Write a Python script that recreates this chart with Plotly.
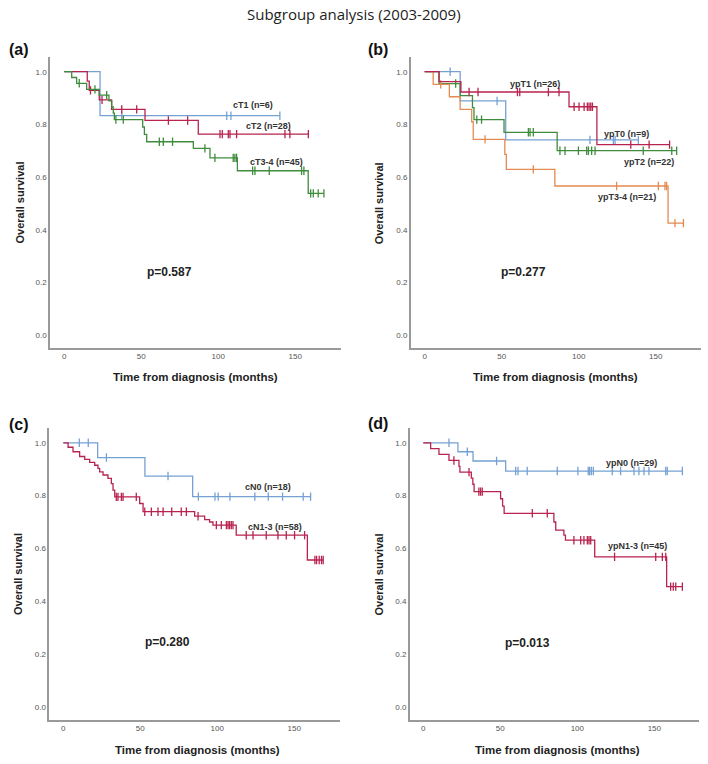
import plotly.graph_objects as go

W, H = 708, 764

# ---------------- data ----------------
# Panel (a)
cT1_t = [23.2]
cT1_s = [0.833]
cT1_c = [37.3, 105.5, 108.2, 140.0]

cT2_t = [14.9, 16.2, 22.7, 30.7, 52.4, 87.0]
cT2_s = [0.964, 0.929, 0.893, 0.857, 0.815, 0.763]
cT2_c = [17.0, 24.5, 37.3, 47.0, 67.6, 80.1, 101.1, 102.6, 106.5, 107.6, 111.9, 143.3, 146.5, 158.5]

cT34_t = [4.8, 8.0, 14.5, 22.7, 29.0, 30.8, 31.8, 32.5, 50.9, 52.0, 53.5, 83.8, 94.6, 112.4, 158.4]
cT34_s = [0.978, 0.956, 0.933, 0.911, 0.889, 0.866, 0.843, 0.818, 0.790, 0.762, 0.734, 0.709, 0.673, 0.624, 0.538]
cT34_c = [9.7, 19.9, 27.5, 33.5, 38.3, 61.7, 64.3, 70.3, 91.3, 97.8, 109.7, 110.8, 111.9, 122.3, 123.8,
          133.1, 154.1, 155.6, 160.0, 161.7, 164.9, 168.6]

# Panel (b)
ypT0_t = [23.0, 52.6]
ypT0_s = [0.889, 0.741]
ypT0_c = [16.5, 47.0, 107.3, 122.5, 123.6, 138.7]

ypT1_t = [9.3, 23.5, 93.7, 111.8]
ypT1_s = [0.962, 0.923, 0.867, 0.723]
ypT1_c = [28.8, 34.6, 60.2, 61.7, 80.3, 87.2, 97.0, 100.2, 103.5, 105.6, 106.7, 107.8, 108.9,
          133.8, 145.7, 159.0]

ypT2_t = [9.3, 23.0, 31.0, 32.0, 51.5, 86.0]
ypT2_s = [0.955, 0.909, 0.864, 0.818, 0.770, 0.700]
ypT2_c = [20.1, 33.8, 36.9, 67.3, 68.4, 70.5, 87.8, 91.1, 99.8, 105.2, 106.3, 108.4, 110.6,
          141.9, 160.4, 163.6]

ypT34_t = [5.5, 16.0, 23.0, 30.5, 31.5, 52.0, 53.0, 84.5, 158.0]
ypT34_s = [0.952, 0.905, 0.857, 0.810, 0.743, 0.686, 0.629, 0.566, 0.425]
ypT34_c = [10.4, 39.2, 70.5, 124.6, 151.7, 156.0, 157.1, 162.5, 168.0]

# Panel (c)
cN0_t = [22.3, 53.0, 84.0]
cN0_s = [0.944, 0.874, 0.796]
cN0_c = [10.4, 16.2, 28.0, 68.0, 87.7, 98.5, 100.6, 108.2, 124.4, 133.1, 142.4, 155.8, 160.6]

cN13_t = [3.1, 6.3, 10.6, 13.9, 17.1, 20.4, 22.5, 23.6, 25.8, 29.0, 31.2, 32.3, 33.4, 49.6, 51.8,
          85.3, 91.8, 95.0, 97.2, 112.3, 158.5]
cN13_s = [0.983, 0.966, 0.948, 0.937, 0.926, 0.915, 0.903, 0.890, 0.878, 0.865, 0.845, 0.821, 0.795,
          0.770, 0.739, 0.722, 0.709, 0.700, 0.688, 0.650, 0.556]
cN13_c = [34.4, 35.5, 37.7, 38.8, 47.4, 52.9, 57.2, 61.5, 64.8, 70.4, 76.6, 79.9, 87.5, 99.4, 102.6,
          105.9, 107.0, 108.0, 109.1, 110.2, 118.8, 123.2, 131.8, 139.4, 144.8, 150.2, 156.7,
          163.4, 164.5, 166.2, 167.7, 168.8]

# Panel (d)
ypN0_t = [22.5, 32.3, 53.5]
ypN0_s = [0.966, 0.931, 0.893]
ypN0_c = [16.7, 28.6, 47.6, 60.0, 61.5, 67.5, 87.0, 100.4, 107.1, 108.0, 109.1, 110.4, 122.7,
          128.1, 136.8, 140.0, 143.3, 146.5, 157.4, 158.4, 168.2]

ypN13_t = [4.8, 10.2, 16.7, 23.2, 23.8, 31.2, 32.2, 33.0, 50.2, 51.5, 52.5, 84.8, 86.0, 91.3, 92.3,
           111.3, 158.0]
ypN13_s = [0.978, 0.956, 0.933, 0.911, 0.889, 0.866, 0.843, 0.815, 0.788, 0.760, 0.733, 0.700,
           0.669, 0.650, 0.631, 0.568, 0.455]
ypN13_c = [19.9, 29.7, 36.1, 37.2, 38.3, 70.8, 80.5, 97.8, 102.2, 104.3, 106.5, 107.6, 108.7,
           124.2, 150.9, 155.2, 157.4, 160.6, 162.3, 163.9, 168.2]

p_values = ["p=0.587", "p=0.277", "p=0.280", "p=0.013"]
panel_tags = ["(a)", "(b)", "(c)", "(d)"]
x_ticks = [0, 50, 100, 150]
y_ticks = [0.0, 0.2, 0.4, 0.6, 0.8, 1.0]

BLUE = "#76a1d3"
RED = "#b8234f"
GREEN = "#3f8c3c"
ORANGE = "#e48a52"

panels = [
    [("cT1 (n=6)", cT1_t, cT1_s, cT1_c, BLUE, 122.5, 0.873),
     ("cT2 (n=28)", cT2_t, cT2_s, cT2_c, RED, 132.7, 0.794),
     ("cT3-4 (n=45)", cT34_t, cT34_s, cT34_c, GREEN, 138.1, 0.658)],
    [("ypT0 (n=9)", ypT0_t, ypT0_s, ypT0_c, BLUE, 130.7, 0.763),
     ("ypT2 (n=22)", ypT2_t, ypT2_s, ypT2_c, GREEN, 145.7, 0.658),
     ("ypT3-4 (n=21)", ypT34_t, ypT34_s, ypT34_c, ORANGE, 131.6, 0.525),
     ("ypT1 (n=26)", ypT1_t, ypT1_s, ypT1_c, RED, 71.9, 0.955)],
    [("cN0 (n=18)", cN0_t, cN0_s, cN0_c, BLUE, 133.1, 0.831),
     ("cN1-3 (n=58)", cN13_t, cN13_s, cN13_c, RED, 137.7, 0.682)],
    [("ypN0 (n=29)", ypN0_t, ypN0_s, ypN0_c, BLUE, 135.5, 0.924),
     ("ypN1-3 (n=45)", ypN13_t, ypN13_s, ypN13_c, RED, 139.3, 0.609)],
]
p_pos = [(68.6, 0.24), (64.0, 0.24), (67.7, 0.246), (67.9, 0.24)]

# ---------------- layout geometry (pixels) ----------------
# (left, right, top, bottom) of each plot area
boxes = [(50.0, 340.7, 56.7, 347.7), (410.7, 700.7, 56.7, 347.7),
         (49.3, 340.0, 428.0, 720.0), (409.7, 699.0, 428.0, 720.0)]
x_ranges = [[-9.3, 179.5], [-9.1, 179.2], [-9.1, 179.7], [-8.8, 179.0]]
y_ranges = [[-0.048, 1.057], [-0.048, 1.057], [-0.050, 1.056], [-0.050, 1.056]]
xtitle_pos = [(195.0, 376.7), (555.7, 376.7), (197.5, 750.0), (557.0, 750.0)]
ytitle_pos = [(19.5, 203.0), (379.3, 203.0), (18.0, 574.0), (378.5, 574.0)]
tag_pos = [(7.0, 49.0), (365.7, 49.0), (7.0, 424.0), (365.7, 423.0)]


def surv_at(t, times, levels):
    s = 1.0
    for tt, ss in zip(times, levels):
        if tt <= t:
            s = ss
    return s


fig = go.Figure()
FONT = "Liberation Sans, Arial, sans-serif"

for i, curves in enumerate(panels):
    xa = "x" if i == 0 else f"x{i+1}"
    ya = "y" if i == 0 else f"y{i+1}"
    for name, times, levels, cens, color, lx, ly in curves:
        end = max([times[-1]] + cens)
        xs = [0.0] + list(times) + [end]
        ys = [1.0] + list(levels) + [levels[-1]]
        fig.add_trace(go.Scatter(x=xs, y=ys, mode="lines", line=dict(color=color, width=1.3, shape="hv"),
                                 xaxis=xa, yaxis=ya, showlegend=False, hoverinfo="skip"))
        fig.add_trace(go.Scatter(x=cens, y=[surv_at(c, times, levels) for c in cens], mode="markers",
                                 marker=dict(symbol="line-ns-open", size=6, color=color,
                                             line=dict(color=color, width=1.3)),
                                 xaxis=xa, yaxis=ya, showlegend=False, hoverinfo="skip"))
        fig.add_annotation(x=lx, y=ly, xref=xa, yref=ya, text=name, showarrow=False,
                           xanchor="center", yanchor="middle",
                           font=dict(family=FONT, size=9, color="#333333", weight="bold"))
    fig.add_annotation(x=p_pos[i][0], y=p_pos[i][1], xref=xa, yref=ya, text=p_values[i],
                       showarrow=False, xanchor="center", yanchor="middle",
                       font=dict(family=FONT, size=12, color="#222222", weight="bold"))

for i, (l, r, t, b) in enumerate(boxes):
    suffix = "" if i == 0 else str(i + 1)
    fig.layout["xaxis" + suffix] = dict(
        domain=[l / W, r / W], range=x_ranges[i], anchor="y" + suffix,
        showgrid=False, zeroline=False, showline=True, linecolor="#9a9a9a", linewidth=1.5,
        tickvals=x_ticks, ticks="", tickfont=dict(family=FONT, size=8, color="#555555"))
    fig.layout["yaxis" + suffix] = dict(
        domain=[1 - b / H, 1 - t / H], range=y_ranges[i], anchor="x" + suffix,
        showgrid=False, zeroline=False, showline=True, linecolor="#9a9a9a", linewidth=1.5,
        tickvals=y_ticks, tickformat=".1f", ticks="", tickfont=dict(family=FONT, size=8, color="#555555"))
    fig.add_annotation(x=xtitle_pos[i][0] / W, y=1 - xtitle_pos[i][1] / H, xref="paper", yref="paper",
                       text="Time from diagnosis (months)", showarrow=False,
                       xanchor="center", yanchor="middle",
                       font=dict(family=FONT, size=11.5, color="#222222", weight="bold"))
    fig.add_annotation(x=ytitle_pos[i][0] / W, y=1 - ytitle_pos[i][1] / H, xref="paper", yref="paper",
                       text="Overall survival", textangle=-90, showarrow=False,
                       xanchor="center", yanchor="middle",
                       font=dict(family=FONT, size=11, color="#222222", weight="bold"))
    fig.add_annotation(x=tag_pos[i][0] / W, y=1 - tag_pos[i][1] / H, xref="paper", yref="paper",
                       text=panel_tags[i], showarrow=False, xanchor="left", yanchor="middle",
                       font=dict(family=FONT, size=16, color="#111111", weight="bold"))

fig.add_annotation(x=354 / W, y=1 - 14 / H, xref="paper", yref="paper",
                   text="Subgroup analysis (2003-2009)", showarrow=False,
                   xanchor="center", yanchor="middle",
                   font=dict(family="Open Sans, sans-serif", size=15, color="#222222"))

fig.update_layout(width=W, height=H, margin=dict(l=0, r=0, t=0, b=0),
                  paper_bgcolor="white", plot_bgcolor="white")

fig.write_html("out.html", config={"displayModeBar": False},
               post_script="document.body.style.margin='0';document.body.style.overflow='hidden';")
